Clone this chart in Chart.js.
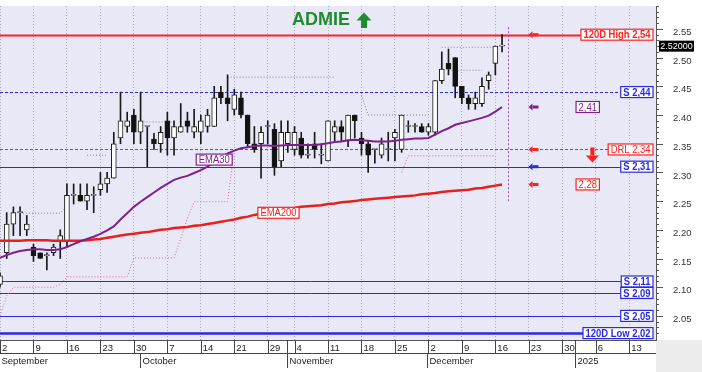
<!DOCTYPE html>
<html>
<head>
<meta charset="utf-8">
<title>ADMIE</title>
<script src="https://cdn.jsdelivr.net/npm/chart.js@4.4.1/dist/chart.umd.min.js"></script>
<style>
  html, body { margin: 0; padding: 0; background: #fff; }
  canvas { display: block; }
</style>
</head>
<body>
<canvas id="chart" width="702" height="372"></canvas>
<script>
/* ======================================
   DATA
====================================== */
const dates = [
  '09-02','09-03','09-04','09-05','09-06','09-09','09-10','09-11','09-12','09-13',
  '09-16','09-17','09-18','09-19','09-20','09-23','09-24','09-25','09-26','09-27',
  '09-30','10-01','10-02','10-03','10-04','10-07','10-08','10-09','10-10','10-11',
  '10-14','10-15','10-16','10-17','10-18','10-21','10-22','10-23','10-24','10-25',
  '10-29','10-30','10-31','11-01','11-04','11-05','11-06','11-07','11-08','11-11',
  '11-12','11-13','11-14','11-15','11-18','11-19','11-20','11-21','11-22','11-25',
  '11-26','11-27','11-28','11-29','12-02','12-03','12-04','12-05','12-06','12-09',
  '12-10','12-11','12-12','12-13','12-16','12-17','12-18','12-19','12-20','12-23',
  '12-24','12-25','12-26','12-27','12-30','12-31','01-01','01-02','01-03','01-06',
  '01-07','01-08','01-09','01-10','01-13','01-14','01-15','01-16','01-17'
];

const weekStarts = ['09-02','09-09','09-16','09-23','09-30','10-07','10-14','10-21','10-29','11-04',
  '11-11','11-18','11-25','12-02','12-09','12-16','12-23','12-30','01-06','01-13'];

const monthNames = ['September', 'October', 'November', 'December', '2025'];
const monthStarts = ['09-02', '10-01', '11-01', '12-02', '01-01'];

const opens = [
  2.105,2.160,2.210,2.230,2.200,2.170,2.160,2.155,2.160,2.180,
  2.180,2.260,2.260,2.250,2.260,2.270,2.280,2.290,2.360,2.380,
  2.400,2.370,2.380,2.358,2.350,2.390,2.360,2.370,2.390,2.370,
  2.370,2.380,2.380,2.440,2.430,2.410,2.430,2.400,2.350,2.350,
  2.380,2.375,2.320,2.350,2.340,2.360,2.330,2.350,2.330,2.320,
  2.370,2.380,2.355,2.400,2.360,2.350,2.340,2.330,2.340,2.360,
  2.340,2.380,2.380,2.380,2.370,2.370,2.460,2.490,2.500,2.450,
  2.430,2.420,2.420,2.460,2.490,2.520
];
const highs = [
  2.125,2.230,2.240,2.240,2.225,2.175,2.160,2.160,2.175,2.200,
  2.280,2.280,2.280,2.280,2.275,2.300,2.300,2.370,2.440,2.405,
  2.410,2.440,2.380,2.368,2.380,2.405,2.390,2.420,2.405,2.410,
  2.400,2.410,2.450,2.450,2.470,2.445,2.440,2.400,2.380,2.380,
  2.390,2.385,2.390,2.390,2.380,2.370,2.350,2.370,2.350,2.390,
  2.390,2.390,2.400,2.400,2.370,2.355,2.340,2.360,2.370,2.375,
  2.400,2.390,2.385,2.385,2.385,2.460,2.510,2.515,2.500,2.450,
  2.435,2.440,2.465,2.475,2.520,2.540
];
const lows = [
  2.100,2.150,2.190,2.190,2.190,2.145,2.150,2.130,2.155,2.150,
  2.170,2.245,2.250,2.235,2.230,2.260,2.265,2.290,2.350,2.370,
  2.350,2.350,2.310,2.340,2.335,2.330,2.330,2.370,2.370,2.360,
  2.350,2.370,2.380,2.420,2.390,2.400,2.395,2.345,2.335,2.290,
  2.350,2.295,2.310,2.335,2.330,2.325,2.325,2.325,2.315,2.320,
  2.355,2.355,2.345,2.360,2.330,2.300,2.316,2.325,2.320,2.320,
  2.335,2.370,2.370,2.370,2.365,2.365,2.455,2.470,2.430,2.420,
  2.410,2.410,2.415,2.445,2.470,2.510
];
const closes = [
  2.120,2.210,2.230,2.230,2.210,2.155,2.150,2.155,2.170,2.190,
  2.260,2.260,2.250,2.260,2.260,2.280,2.290,2.350,2.390,2.390,
  2.370,2.390,2.380,2.350,2.370,2.360,2.380,2.380,2.380,2.380,
  2.390,2.400,2.430,2.430,2.420,2.435,2.400,2.350,2.340,2.370,
  2.380,2.310,2.370,2.370,2.370,2.330,2.330,2.340,2.330,2.390,
  2.380,2.370,2.400,2.390,2.350,2.330,2.340,2.350,2.340,2.370,
  2.400,2.380,2.380,2.370,2.380,2.460,2.480,2.480,2.450,2.430,
  2.420,2.430,2.450,2.470,2.520,2.520
];

const ema30 = [
  2.151,2.156,2.160,2.163,2.165,2.166,2.166,2.165,2.165,2.166,
  2.170,2.175,2.180,2.184,2.188,2.193,2.199,2.206,2.218,2.229,
  2.240,2.249,2.257,2.265,2.273,2.280,2.287,2.291,2.294,2.299,
  2.304,2.310,2.318,2.326,2.333,2.338,2.342,2.344,2.346,2.347,
  2.347,2.346,2.347,2.348,2.348,2.348,2.348,2.348,2.349,2.351,
  2.353,2.354,2.356,2.357,2.356,2.355,2.354,2.354,2.354,2.355,
  2.357,2.358,2.359,2.359,2.360,2.366,2.372,2.377,2.383,2.386,
  2.389,2.392,2.395,2.399,2.406,2.414
];
const ema200 = [
  2.181,2.181,2.181,2.181,2.182,2.182,2.182,2.182,2.181,2.181,
  2.181,2.181,2.181,2.182,2.183,2.184,2.186,2.188,2.190,2.192,
  2.193,2.195,2.196,2.198,2.200,2.201,2.203,2.204,2.205,2.207,
  2.208,2.210,2.212,2.214,2.216,2.218,2.221,2.223,2.226,2.228,
  2.230,2.232,2.234,2.236,2.238,2.240,2.241,2.242,2.243,2.245,
  2.246,2.248,2.249,2.250,2.252,2.253,2.254,2.255,2.256,2.257,
  2.258,2.259,2.260,2.262,2.263,2.264,2.266,2.267,2.268,2.269,
  2.270,2.272,2.273,2.275,2.277,2.279
];

// dotted stop / resistance steps
const stopLow = [
  2.050,2.085,2.100,2.100,2.100,2.100,2.100,2.100,2.100,2.105,
  2.118,2.118,2.118,2.118,2.118,2.118,2.118,2.118,2.118,2.118,
  2.151,2.151,2.151,2.151,2.151,2.151,2.151,2.185,2.220,2.249,
  2.249,2.249,2.249,2.249,2.249,2.340
];
const stopLow2 = [
  null,null,null,null,null,null,null,null,null,null,
  null,null,null,null,null,null,null,null,null,null,
  null,null,null,null,null,null,null,null,null,null,
  null,null,null,null,null,null,null,null,null,null,
  null,null,null,null,null,null,null,null,null,null,
  null,null,null,null,null,null,null,null,null,null,
  2.300,2.329,2.329,2.329,2.329,2.329,2.329,2.329,2.329,2.329,
  2.329,2.329,2.329,2.329,2.329
];
const stopHigh = [
  null,null,null,2.229,2.229,2.229,2.229,2.229,2.229,2.229,
  2.243,null,null,2.330,2.330,2.330,2.330,null,null,null,
  null,2.388,2.388,2.388,2.388,2.388,2.388,null,null,null,
  null,null,null,null,2.466,2.466,2.466,2.466,2.466,2.466,
  2.466,2.466,2.466,2.466,2.466,2.466,2.466,2.466,2.466,2.466,
  2.466,null,null,null,2.435,2.400,2.400,2.400,2.400,2.400,
  2.400,2.400,2.400,2.400,2.400,null,null,2.478,2.478,2.478,
  2.478,2.478,2.478
];
const stopHigh2 = [
  null,null,null,null,null,null,null,null,null,null,
  null,null,null,null,null,null,null,null,null,null,
  null,null,null,null,null,null,null,null,null,null,
  null,null,null,null,null,null,null,null,null,null,
  null,null,null,null,null,null,null,null,null,null,
  null,null,null,null,null,null,null,null,null,null,
  null,null,null,null,null,null,2.518,2.518,2.518,2.518,
  2.518,2.518,2.518,2.518,2.518
];

const levelValues = [2.54, 2.44, 2.34, 2.31, 2.11, 2.09, 2.05, 2.02];
const levelNames = ['120D High 2,54', 'S 2,44', 'DRL 2,34', 'S 2,31', 'S 2,11', 'S 2,09', 'S 2,05', '120D Low 2,02'];
const lastPrice = 2.52;
const ticker = 'ADMIE';

/* ======================================
   STYLES
====================================== */
const RED = '#ff2020';
const BLUE = '#2a2ae0';
const PURPLE = '#80208c';
const GREEN = '#1d8d2d';
const NARROW = 0.82;
const levelStyles = [
  { color: RED,  width: 2,   dash: [],     bold: true },
  { color: BLUE, width: 1,   dash: [3, 2], bold: true },
  { color: RED,  width: 1,   dash: [3, 2], bold: false },
  { color: BLUE, width: 1,   dash: [],     bold: true },
  { color: BLUE, width: 1,   dash: [],     bold: true },
  { color: BLUE, width: 1,   dash: [],     bold: true },
  { color: BLUE, width: 1,   dash: [],     bold: true },
  { color: BLUE, width: 2.5, dash: [],     bold: true }
];
const monthFull = [false, false, true, false, true];

const FONT = "'Liberation Sans', Arial, sans-serif";
Chart.defaults.font.family = FONT;

const weekIdx = new Set(weekStarts.map(d => dates.indexOf(d)));

/* ======================================
   HELPERS
====================================== */
function xAt(chart, i) {
  const xs = chart.scales.x;
  const a = xs.getPixelForValue(0);
  const b = xs.getPixelForValue(1);
  return a + (b - a) * i;
}

function comma(v) {
  return v.toFixed(2).replace('.', ',');
}

function boxWidth(ctx, text, bold) {
  ctx.save();
  ctx.font = (bold ? 'bold ' : '') + '11.5px ' + FONT;
  const w = ctx.measureText(text).width * NARROW + 5;
  ctx.restore();
  return w;
}

function boxLabel(ctx, text, x, y, color, bold, align) {
  const w = boxWidth(ctx, text, bold);
  const h = 11;
  const left = align === 'right' ? x - w : x - w / 2;
  ctx.save();
  ctx.font = (bold ? 'bold ' : '') + '11.5px ' + FONT;
  ctx.fillStyle = '#ffffff';
  ctx.fillRect(left, y - h / 2, w, h);
  ctx.strokeStyle = color;
  ctx.lineWidth = 1.2;
  ctx.strokeRect(left, y - h / 2, w, h);
  ctx.translate(left + w / 2, y + 0.5);
  ctx.scale(NARROW, 1);
  ctx.fillStyle = color;
  ctx.textAlign = 'center';
  ctx.textBaseline = 'middle';
  ctx.fillText(text, 0, 0);
  ctx.restore();
}

function leftArrow(ctx, x, y, color) {
  ctx.save();
  ctx.fillStyle = color;
  ctx.fillRect(x - 1, y - 1.5, 6, 3);
  ctx.beginPath();
  ctx.moveTo(x - 5, y);
  ctx.lineTo(x - 1, y - 3.5);
  ctx.lineTo(x - 1, y + 3.5);
  ctx.closePath();
  ctx.fill();
  ctx.restore();
}

/* ======================================
   PLUGIN: BACKGROUND + OVERLAYS
====================================== */
const overlay = {
  id: 'overlay',
  beforeDraw(chart) {
    const { ctx, chartArea: a, width, height } = chart;
    ctx.save();
    ctx.fillStyle = '#ffffff';
    ctx.fillRect(0, 0, width, height);
    ctx.fillStyle = '#e8e8f7';
    ctx.fillRect(a.left, a.top, a.right - a.left, a.bottom - a.top);
    ctx.fillStyle = '#ececec';
    ctx.fillRect(a.right, a.bottom, width - a.right, height - a.bottom);
    ctx.restore();
  },

  beforeDatasetsDraw(chart) {
    const { ctx, chartArea: a } = chart;
    const ys = chart.scales.y;
    ctx.save();
    levelValues.forEach((v, i) => {
      const st = levelStyles[i];
      const y = Math.round(ys.getPixelForValue(v)) + 0.5;
      const w = boxWidth(ctx, levelNames[i], st.bold);
      ctx.strokeStyle = st.color;
      ctx.lineWidth = st.width;
      ctx.setLineDash(st.dash);
      ctx.beginPath();
      ctx.moveTo(a.left, y);
      ctx.lineTo(a.right - 3 - w, y);
      ctx.stroke();
    });
    // last bar marker
    const vx = Math.round(xAt(chart, 75.95)) + 0.5;
    ctx.strokeStyle = '#a050b0';
    ctx.lineWidth = 1;
    ctx.setLineDash([2, 2]);
    ctx.beginPath();
    ctx.moveTo(vx, ys.getPixelForValue(2.553));
    ctx.lineTo(vx, ys.getPixelForValue(2.248));
    ctx.stroke();
    ctx.restore();
  },

  afterDatasetsDraw(chart) {
    const { ctx, chartArea: a } = chart;
    const ys = chart.scales.y;

    levelValues.forEach((v, i) => {
      const st = levelStyles[i];
      boxLabel(ctx, levelNames[i], a.right - 3, ys.getPixelForValue(v), st.color, st.bold, 'right');
    });

    // indicator arrows
    const ax = xAt(chart, 79.7);
    const e30 = ema30[ema30.length - 1];
    const e200 = ema200[ema200.length - 1];
    leftArrow(ctx, ax, ys.getPixelForValue(levelValues[0]), RED);
    leftArrow(ctx, ax, ys.getPixelForValue(e30), PURPLE);
    leftArrow(ctx, ax, ys.getPixelForValue(levelValues[2]), RED);
    leftArrow(ctx, ax, ys.getPixelForValue(levelValues[3]), BLUE);
    leftArrow(ctx, ax, ys.getPixelForValue(e200), RED);

    const bx = xAt(chart, 87.8);
    boxLabel(ctx, comma(e30), bx, ys.getPixelForValue(e30), PURPLE, false, 'center');
    boxLabel(ctx, comma(e200), bx, ys.getPixelForValue(e200), RED, false, 'center');

    // DRL down arrow
    const dx = xAt(chart, 88.5);
    const dy = ys.getPixelForValue(levelValues[2]);
    ctx.save();
    ctx.fillStyle = RED;
    ctx.fillRect(dx - 2, dy - 2, 4, 8);
    ctx.beginPath();
    ctx.moveTo(dx - 6.5, dy + 6);
    ctx.lineTo(dx + 6.5, dy + 6);
    ctx.lineTo(dx, dy + 13);
    ctx.closePath();
    ctx.fill();
    ctx.restore();

    // line labels
    boxLabel(ctx, 'EMA30', xAt(chart, 32), ys.getPixelForValue(ema30[32]) - 2.5, PURPLE, false, 'center');
    boxLabel(ctx, 'EMA200', xAt(chart, 41.6), ys.getPixelForValue(ema200[42]) + 2.5, RED, false, 'center');

    // title
    ctx.save();
    ctx.font = 'bold 18px ' + FONT;
    ctx.fillStyle = GREEN;
    ctx.textBaseline = 'middle';
    ctx.textAlign = 'left';
    ctx.fillText(ticker, a.left + 292, 20.5);
    const tx = a.left + 292 + ctx.measureText(ticker).width + 14;
    ctx.beginPath();
    ctx.moveTo(tx, 12.5);
    ctx.lineTo(tx + 7.5, 20.5);
    ctx.lineTo(tx - 7.5, 20.5);
    ctx.closePath();
    ctx.fill();
    ctx.fillRect(tx - 3, 20, 6, 8);
    ctx.restore();
  },

  afterDraw(chart) {
    const { ctx, chartArea: a } = chart;
    const ys = chart.scales.y;
    const xs = chart.scales.x;
    ctx.save();

    // right axis tick marks
    ctx.strokeStyle = '#555';
    ctx.lineWidth = 1;
    ys.ticks.forEach(t => {
      const c = t.value * 100;
      if (Math.abs(c - Math.round(c)) > 1e-6) return;
      const y = Math.round(ys.getPixelForValue(t.value)) + 0.5;
      const len = Math.round(c) % 5 === 0 ? 7 : 3;
      ctx.beginPath();
      ctx.moveTo(a.right, y);
      ctx.lineTo(a.right + len, y);
      ctx.stroke();
    });

    // last price tag
    const py = ys.getPixelForValue(lastPrice);
    ctx.fillStyle = '#000';
    ctx.fillRect(a.right + 3, py - 5.5, 35, 11);
    ctx.fillStyle = '#fff';
    ctx.font = '9px ' + FONT;
    ctx.textAlign = 'center';
    ctx.textBaseline = 'middle';
    ctx.fillText(lastPrice.toFixed(5), a.right + 20.5, py + 0.5);

    // week tick marks + row separator
    ctx.strokeStyle = '#444';
    weekIdx.forEach(i => {
      const x = Math.round(xs.getPixelForValue(i)) + 0.5;
      ctx.beginPath();
      ctx.moveTo(x, a.bottom);
      ctx.lineTo(x, a.bottom + 13);
      ctx.stroke();
    });
    ctx.beginPath();
    ctx.moveTo(a.left, a.bottom + 13.5);
    ctx.lineTo(a.right, a.bottom + 13.5);
    ctx.stroke();

    // month row
    ctx.fillStyle = '#222';
    ctx.font = '9.5px ' + FONT;
    ctx.textAlign = 'left';
    ctx.textBaseline = 'middle';
    monthStarts.forEach((d, k) => {
      const x = Math.round(xs.getPixelForValue(dates.indexOf(d))) - 0.5;
      ctx.beginPath();
      ctx.moveTo(x, monthFull[k] ? a.bottom : a.bottom + 13);
      ctx.lineTo(x, a.bottom + 28);
      ctx.stroke();
      ctx.fillText(monthNames[k], x + 2, a.bottom + 21);
    });
    ctx.restore();
  }
};

/* ======================================
   CHART
====================================== */
const bodies = opens.map((o, i) => [Math.min(o, closes[i]), Math.max(o, closes[i])]);
const wicks = lows.map((l, i) => [l, highs[i]]);

const dotted = (data, color) => ({
  type: 'line',
  data,
  borderColor: color,
  borderWidth: 1,
  borderDash: [1, 2],
  pointRadius: 0,
  fill: false,
  order: 5
});

new Chart(document.getElementById('chart'), {
  type: 'bar',
  data: {
    labels: dates,
    datasets: [
      {
        type: 'line',
        label: 'EMA30',
        data: ema30,
        borderColor: PURPLE,
        borderWidth: 2,
        pointRadius: 0,
        fill: false,
        order: -2
      },
      {
        type: 'line',
        label: 'EMA200',
        data: ema200,
        borderColor: '#e8201c',
        borderWidth: 2.5,
        pointRadius: 0,
        fill: false,
        order: -1
      },
      {
        label: 'body',
        data: bodies,
        backgroundColor: ctx => closes[ctx.dataIndex] < opens[ctx.dataIndex] ? '#111' : '#fff',
        borderColor: '#1a1a1a',
        borderWidth: 1,
        borderSkipped: false,
        barThickness: 5,
        minBarLength: 1,
        grouped: false,
        order: 1
      },
      {
        label: 'wick',
        data: wicks,
        backgroundColor: '#1a1a1a',
        borderWidth: 0,
        barThickness: 1,
        grouped: false,
        order: 2
      },
      dotted(stopLow, '#f06080'),
      dotted(stopLow2, '#f06080'),
      dotted(stopHigh, '#6f8f80'),
      dotted(stopHigh2, '#8a8a9a')
    ]
  },
  options: {
    responsive: false,
    animation: false,
    events: [],
    layout: { padding: { top: 6, left: 0, right: 0, bottom: 0 } },
    plugins: { legend: { display: false }, tooltip: { enabled: false } },
    scales: {
      x: {
        type: 'category',
        offset: false,
        grid: {
          offset: false,
          drawTicks: false,
          lineWidth: 1,
          color: ctx => weekIdx.has(ctx.index) ? '#a9a9bd' : 'rgba(0,0,0,0)'
        },
        border: { display: true, color: '#555', dash: [1, 2] },
        ticks: {
          autoSkip: false,
          maxRotation: 0,
          minRotation: 0,
          align: 'start',
          padding: 3,
          labelOffset: 2,
          color: '#222',
          font: { size: 9.5 },
          callback: (v, i) => weekIdx.has(i) ? String(parseInt(dates[i].slice(3), 10)) : ''
        },
        afterFit: s => { s.height = 32; s.paddingLeft = 0; s.paddingRight = 0; }
      },
      y: {
        type: 'linear',
        position: 'right',
        min: 2.008,
        max: 2.59,
        grid: { display: false, drawTicks: false },
        border: { display: true, color: '#555' },
        ticks: {
          stepSize: 0.01,
          autoSkip: false,
          padding: 17,
          labelOffset: 3.5,
          color: '#333',
          font: { size: 9.5 },
          callback: v => {
            const c = Math.round(v * 100);
            return Math.abs(v * 100 - c) < 1e-6 && c % 5 === 0 ? v.toFixed(2) : '';
          }
        },
        afterFit: s => { s.width = 46; s.paddingTop = 0; s.paddingBottom = 0; }
      }
    }
  },
  plugins: [overlay]
});
</script>
</body>
</html>
